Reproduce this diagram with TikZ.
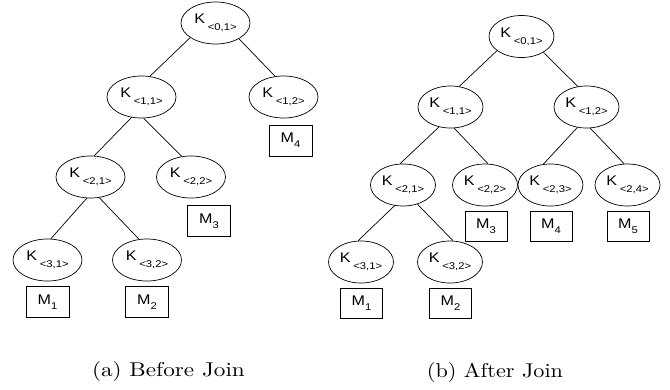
\documentclass[tikz,border=0pt]{standalone}
\usepackage{fontspec}
\usepackage{graphicx}
\newfontfamily\arialf{Liberation Sans}
\newfontfamily\capf{lmroman10-regular}[Extension=.otf]
\usetikzlibrary{shapes.geometric}
\newcommand\Klab[1]{\scalebox{1.15}[1]{\arialf\fontsize{14}{14}\selectfont K\hspace{2.5pt}\raisebox{-7pt}{\fontsize{9.8}{10}\selectfont <#1>}}}
\newcommand\Mlab[1]{\scalebox{1.15}[1]{\arialf\fontsize{14}{14}\selectfont M\raisebox{-5pt}{\fontsize{9.8}{10}\selectfont #1}}}
\newcommand\Capt[2]{\scalebox{#1}[1]{\capf\fontsize{20}{24}\selectfont #2}}
\tikzset{
  knode/.style={ellipse, draw, inner sep=0pt, minimum width=69pt, minimum height=42pt},
  knodeb/.style={knode, minimum width=65pt},
  mbox/.style={rectangle, draw, inner sep=0pt, minimum width=43pt, minimum height=31pt},
  mboxb/.style={mbox, minimum width=42pt, minimum height=30pt},
  link/.style={draw},
  capt/.style={anchor=base, inner sep=0pt}
}
\begin{document}
\begin{tikzpicture}[x=1pt, y=-1pt, line width=0.7pt]
\useasboundingbox (0,0) rectangle (670,389);
% ---------- (a) Before Join ----------
\node[knode] (a01) at (215.5,23) {\Klab{0,1}};
\node[knode] (a11) at (141.5,97) {\Klab{1,1}};
\node[knode] (a12) at (283.5,97) {\Klab{1,2}};
\node[mbox]  (am4) at (290.5,140.5) {\Mlab{4}};
\node[knode] (a21) at (90.5,177) {\Klab{2,1}};
\node[knode] (a22) at (191,177) {\Klab{2,2}};
\node[mbox]  (am3) at (209,221) {\Mlab{3}};
\node[knode] (a31) at (47.5,260) {\Klab{3,1}};
\node[knode] (a32) at (147,260) {\Klab{3,2}};
\node[mbox]  (am1) at (47.5,302) {\Mlab{1}};
\node[mbox]  (am2) at (147,302) {\Mlab{2}};
\draw[link] (a01.-150) -- (a11.68);
\draw[link] (a01.-34) -- (a12.112);
\draw[link] (a11.-116) -- (a21.80);
\draw[link] (a11.-84) -- (a22.114);
\draw[link] (a21.-100) -- (a31.81);
\draw[link] (a21.-67) -- (a32.111);
\node[capt] (capa) at (168.5,376) {\Capt{1.16}{(a) Before Join}};
% ---------- (b) After Join ----------
\node[knodeb] (b01) at (521.5,36.5) {\Klab{0,1}};
\node[knodeb] (b11) at (450.5,107) {\Klab{1,1}};
\node[knodeb] (b12) at (586.5,107) {\Klab{1,2}};
\node[knodeb] (b21) at (403,185) {\Klab{2,1}};
\node[knodeb] (b22) at (485,185) {\Klab{2,2}};
\node[knodeb] (b23) at (550.5,185) {\Klab{2,3}};
\node[knodeb] (b24) at (627.5,185) {\Klab{2,4}};
\node[mboxb] (bm3) at (486,226) {\Mlab{3}};
\node[mboxb] (bm4) at (551,226) {\Mlab{4}};
\node[mboxb] (bm5) at (628,226) {\Mlab{5}};
\node[knodeb] (b31) at (361,262) {\Klab{3,1}};
\node[knodeb] (b32) at (450,262) {\Klab{3,2}};
\node[mboxb] (bm1) at (361.5,303) {\Mlab{1}};
\node[mboxb] (bm2) at (450.5,303) {\Mlab{2}};
\draw[link] (b01.-150) -- (b11.67);
\draw[link] (b01.-36) -- (b12.113);
\draw[link] (b11.-120) -- (b21.98);
\draw[link] (b11.-80) -- (b22.82);
\draw[link] (b12.-114) -- (b23.109);
\draw[link] (b12.-80) -- (b24.99);
\draw[link] (b21.-112) -- (b31.98);
\draw[link] (b21.-53) -- (b32.82);
\node[capt] (capb) at (495,377) {\Capt{1.11}{(b) After Join}};
\end{tikzpicture}
\end{document}
